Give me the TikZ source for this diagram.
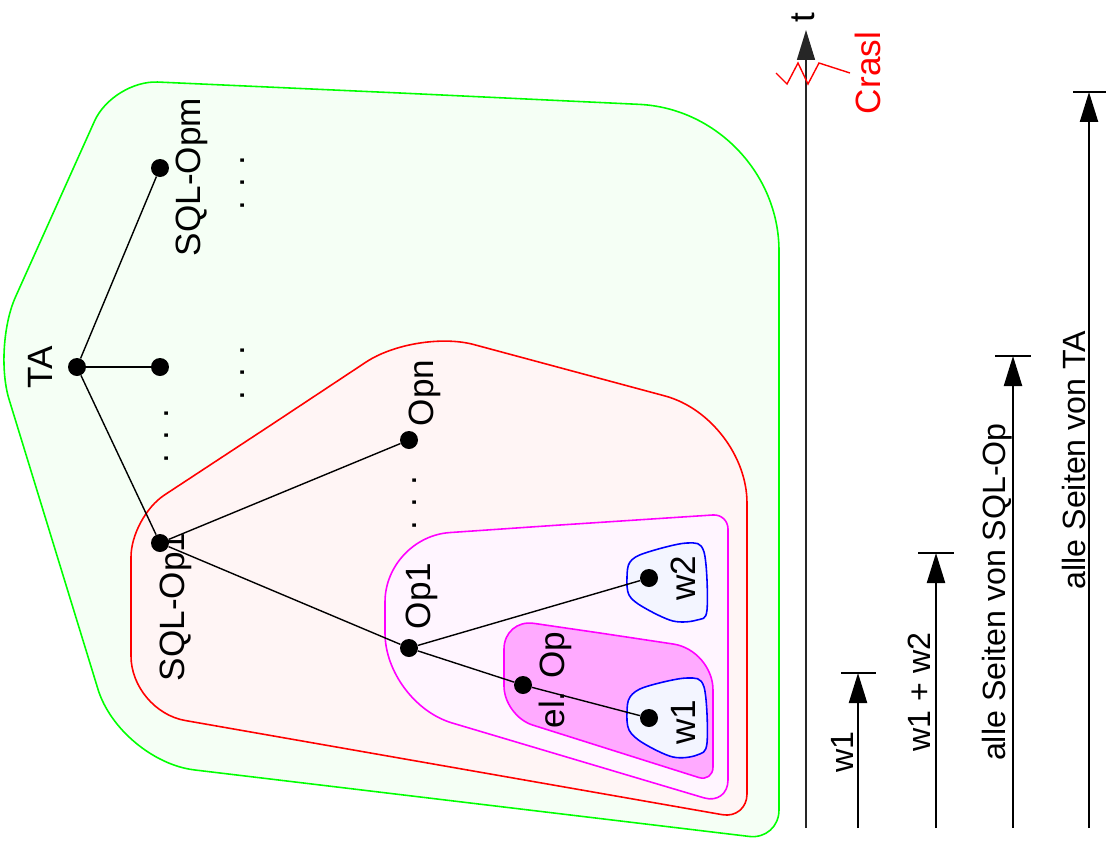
\documentclass[tikz,border=0pt]{standalone}
\usepackage{fontspec}
\setmainfont{Liberation Sans}
\usetikzlibrary{arrows.meta}
\definecolor{taFill}{HTML}{F5FFF5}
\definecolor{sqlFill}{HTML}{FFF5F5}
\definecolor{opFill}{HTML}{FFF5FF}
\definecolor{elFill}{HTML}{FFAAFF}
\definecolor{wFill}{HTML}{F3F5FF}
\definecolor{opLine}{RGB}{255,0,255}
\begin{document}
\begin{tikzpicture}[x=0.02cm, y=-0.02cm,
		dot/.style={circle, fill=black, inner sep=0pt, minimum size=0.36cm},
		lbl/.style={rotate=90, font=\fontsize{20}{24}\selectfont, inner sep=0pt},
		tlbl/.style={rotate=90, font=\fontsize{18.3}{22}\selectfont, inner sep=0pt},
		edge/.style={line width=0.8pt},
		region/.style={line width=0.9pt},
		timeline/.style={line width=1.3pt, -{Triangle[length=0.6cm, width=0.36cm]}},
		bar/.style={line width=1.3pt}]

		\useasboundingbox (0,0) rectangle (1106,849);

		\coordinate (g1) at (113,80);
		\coordinate (g2) at (779,111);
		\coordinate (g3) at (779,840);
		\coordinate (g4) at (120,761);
		\coordinate (g5) at (-7,347);
		\draw[region, draw=green, fill=taFill] (400,93) [rounded corners=2.8cm] -- (g2) [rounded corners=0.6cm] -- (g3) [rounded corners=1.5cm] -- (g4) [rounded corners=1.1cm] -- (g5) [rounded corners=0.9cm] -- (g1) [sharp corners] -- cycle;

		\coordinate (r1) at (416,329);
		\coordinate (r2) at (747,418);
		\coordinate (r3) at (747,819);
		\coordinate (r4) at (131,711);
		\coordinate (r5) at (131,517);
		\draw[region, draw=red, fill=sqlFill] (274,423) [rounded corners=1.2cm] -- (r1) [rounded corners=1.7cm] -- (r2) [rounded corners=0.5cm] -- (r3) [rounded corners=1.1cm] -- (r4) [rounded corners=0.8cm] -- (r5) [sharp corners] -- cycle;

		\coordinate (m1) at (385,537);
		\coordinate (m2) at (728,514);
		\coordinate (m3) at (728,805);
		\coordinate (m4) at (385,703);
		\draw[region, draw=opLine, fill=opFill] (560,525) [rounded corners=0.3cm] -- (m2) [rounded corners=0.5cm] -- (m3) [rounded corners=1.4cm] -- (m4) [rounded corners=1.3cm] -- (m1) [sharp corners] -- cycle;

		\coordinate (p1) at (504,619);
		\coordinate (p2) at (713,650);
		\coordinate (p3) at (713,782);
		\coordinate (p4) at (504,716);
		\draw[region, draw=opLine, fill=elFill] (600,633) [rounded corners=0.8cm] -- (p2) [rounded corners=0.3cm] -- (p3) [rounded corners=0.6cm] -- (p4) [rounded corners=0.6cm] -- (p1) [sharp corners] -- cycle;

		\draw[region, draw=blue, fill=wFill, smooth cycle, tension=0.55] plot coordinates {(627,577) (630,562) (645,553) (687,543) (704,552) (707,610) (697,620) (673,621) (643,607) (629,595)};
		\draw[region, draw=blue, fill=wFill, smooth cycle, tension=0.55] plot coordinates {(627,712) (630,697) (645,687) (687,678) (704,687) (707,743) (697,755) (673,757) (643,743) (629,730)};

		\node[dot] (TA) at (77,367) {};
		\node[dot] (SQLOpm) at (160,168) {};
		\node[dot] (SQLOpx) at (160,367) {};
		\node[dot] (SQLOp1) at (160,543) {};
		\node[dot] (Opn) at (409,440) {};
		\node[dot] (Op1) at (409,648) {};
		\node[dot] (elOp) at (523,685) {};
		\node[dot] (w1) at (649,718) {};
		\node[dot] (w2) at (649,578) {};

		\draw[edge] (TA) -- (SQLOpm);
		\draw[edge] (TA) -- (SQLOpx);
		\draw[edge] (TA) -- (SQLOp1);
		\draw[edge] (SQLOp1) -- (Opn);
		\draw[edge] (SQLOp1) -- (Op1);
		\draw[edge] (Op1) -- (w2);
		\draw[edge] (Op1) -- (elOp);
		\draw[edge] (elOp) -- (w1);

		\node[lbl] (TAlbl) at (40,367) {TA};
		\node[lbl] (SQLOpmlbl) at (192,177) {SQL-Opm};
		\node[lbl] (SQLOp1lbl) at (176,607) {SQL-Op1};
		\node[lbl] (Opnlbl) at (425,393) {Opn};
		\node[lbl] (Op1lbl) at (422,596) {Op1};
		\node[lbl] (elOplbl) at (555,680) {el. Op};
		\node[lbl] (w1lbl) at (683,722) {w1};
		\node[lbl] (w2lbl) at (683,578) {w2};
		\node[lbl] (dots1) at (243,183) {. . .};
		\node[lbl] (dots2) at (243,373) {. . .};
		\node[lbl] (dots3) at (167,436) {. . .};
		\node[lbl] (dots4) at (415,503) {. . .};

		\coordinate (t0) at (806,828);
		\coordinate (t1) at (806,30);
		\coordinate (a0) at (858,828);
		\coordinate (a1) at (858,673);
		\coordinate (b0) at (936,828);
		\coordinate (b1) at (936,553);
		\coordinate (c0) at (1013,828);
		\coordinate (c1) at (1013,356);
		\coordinate (d0) at (1089,828);
		\coordinate (d1) at (1089,92);

		\draw[timeline, line width=0.9pt, black!85] (t0) -- (t1);
		\draw[timeline] (a0) -- (a1);
		\draw[timeline] (b0) -- (b1);
		\draw[timeline] (c0) -- (c1);
		\draw[timeline] (d0) -- (d1);
		\draw[bar] ([xshift=-0.34cm]a1) -- ([xshift=0.36cm]a1);
		\draw[bar] ([xshift=-0.36cm]b1) -- ([xshift=0.36cm]b1);
		\draw[bar] ([xshift=-0.36cm]c1) -- ([xshift=0.36cm]c1);
		\draw[bar] ([xshift=-0.32cm]d1) -- ([xshift=0.34cm]d1);

		\node[lbl] (tlbl) at (803,18) {t};
		\draw[red, line width=0.8pt] (776,73) -- (787,84) -- (798,63) -- (808,84) -- (819,63) -- (850,73);
		\node[lbl, red] (crasl) at (868,73) {Crasl};

		\node[tlbl] (w1t) at (842,752) {w1};
		\node[tlbl] (w1w2t) at (919,692) {w1 + w2};
		\node[tlbl] (sqlt) at (997,592) {alle Seiten von SQL-Op};
		\node[tlbl] (tat) at (1074,460) {alle Seiten von TA};
	\end{tikzpicture}
\end{document}
